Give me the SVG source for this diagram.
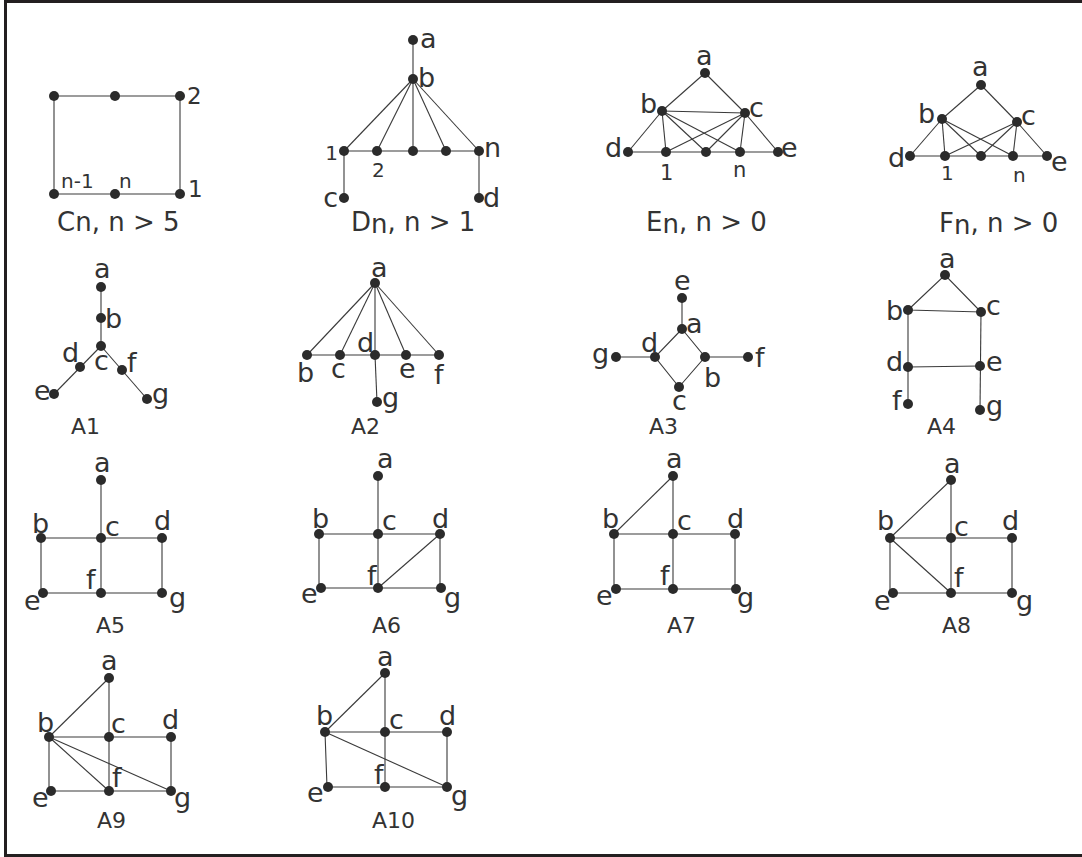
<svg xmlns="http://www.w3.org/2000/svg" width="1082" height="857" viewBox="0 0 1082 857">
<style>
.frame{fill:none;stroke:#231f20;stroke-width:3}
.e line,.e polyline{stroke:#3a3a3a;stroke-width:1.1;fill:none}
circle{fill:#2b2b2b}
text{font-family:"DejaVu Sans","Liberation Sans",sans-serif;fill:#333;font-size:27px}
.s{font-size:20px}
.cap{font-size:26px}
.ac{font-size:22px}
</style>
<rect width="1082" height="857" fill="#fff"/>
<g id="frame">
<path class="frame" d="M5.5,1.5 H1082 M5.5,0 V857 M4,855.5 H1082"/>
</g>

<!-- Cn -->
<g id="Cn">
<g class="e" id="Cn-edges"><polyline points="54,96 180,96 180,194 54,194 54,96"/></g>
<g id="Cn-v1"><circle cx="54" cy="96" r="5"/></g>
<g id="Cn-v2"><circle cx="115" cy="96" r="5"/></g>
<g id="Cn-2"><circle cx="180" cy="96" r="5"/><text x="187" y="104" style="font-size:23px">2</text></g>
<g id="Cn-n1"><circle cx="54" cy="194" r="5"/><text class="s" x="61" y="188" style="font-size:20px">n-1</text></g>
<g id="Cn-n"><circle cx="115" cy="194" r="5"/><text class="s" x="119" y="188" style="font-size:20px">n</text></g>
<g id="Cn-1"><circle cx="180" cy="194" r="5"/><text x="188" y="197" style="font-size:23px">1</text></g>
<text class="cap" x="57" y="231">Cn, n &gt; 5</text>
</g>

<!-- Dn -->
<g id="Dn">
<g class="e" id="Dn-edges">
<line x1="413" y1="40" x2="413" y2="79"/>
<line x1="413" y1="79" x2="344" y2="151"/>
<line x1="413" y1="79" x2="377" y2="151"/>
<line x1="413" y1="79" x2="413" y2="151"/>
<line x1="413" y1="79" x2="446" y2="151"/>
<line x1="413" y1="79" x2="479" y2="151"/>
<line x1="344" y1="151" x2="479" y2="151"/>
<line x1="344" y1="151" x2="344" y2="198"/>
<line x1="479" y1="151" x2="479" y2="198"/>
</g>
<g id="Dn-a"><circle cx="413" cy="40" r="5"/><text x="420" y="48">a</text></g>
<g id="Dn-b"><circle cx="413" cy="79" r="5"/><text x="418" y="87">b</text></g>
<g id="Dn-1"><circle cx="344" cy="151" r="5"/><text class="s" x="338" y="160" text-anchor="end">1</text></g>
<g id="Dn-2"><circle cx="377" cy="151" r="5"/><text class="s" x="372" y="177">2</text></g>
<g id="Dn-3"><circle cx="413" cy="151" r="5"/></g>
<g id="Dn-4"><circle cx="446" cy="151" r="5"/></g>
<g id="Dn-n"><circle cx="479" cy="151" r="5"/><text x="484" y="157">n</text></g>
<g id="Dn-c"><circle cx="344" cy="198" r="5"/><text x="338" y="207" text-anchor="end">c</text></g>
<g id="Dn-d"><circle cx="479" cy="198" r="5"/><text x="483" y="207">d</text></g>
<text class="cap" x="351" y="231">D<tspan dy="2">n</tspan><tspan dy="-2">, n &gt; 1</tspan></text>
</g>

<!-- En -->
<g id="En">
<g class="e" id="En-edges">
<line x1="705" y1="73" x2="662" y2="111"/>
<line x1="705" y1="73" x2="745" y2="113"/>
<line x1="662" y1="111" x2="745" y2="113"/>
<line x1="662" y1="111" x2="628" y2="152"/>
<line x1="662" y1="111" x2="666" y2="152"/>
<line x1="662" y1="111" x2="706" y2="152"/>
<line x1="662" y1="111" x2="740" y2="152"/>
<line x1="745" y1="113" x2="666" y2="152"/>
<line x1="745" y1="113" x2="706" y2="152"/>
<line x1="745" y1="113" x2="740" y2="152"/>
<line x1="745" y1="113" x2="778" y2="152"/>
<line x1="628" y1="152" x2="778" y2="152"/>
</g>
<g id="En-a"><circle cx="705" cy="73" r="5"/><text x="696" y="65">a</text></g>
<g id="En-b"><circle cx="662" cy="111" r="5"/><text x="640" y="113">b</text></g>
<g id="En-c"><circle cx="745" cy="113" r="5"/><text x="749" y="117">c</text></g>
<g id="En-d"><circle cx="628" cy="152" r="5"/><text x="605" y="157">d</text></g>
<g id="En-1"><circle cx="666" cy="152" r="5"/><text class="s" x="660" y="180" style="font-size:21px">1</text></g>
<g id="En-m"><circle cx="706" cy="152" r="5"/></g>
<g id="En-n"><circle cx="740" cy="152" r="5"/><text class="s" x="733" y="177" style="font-size:21px">n</text></g>
<g id="En-e"><circle cx="778" cy="152" r="5"/><text x="781" y="157">e</text></g>
<text class="cap" x="646" y="231">E<tspan dy="2">n</tspan><tspan dy="-2">, n &gt; 0</tspan></text>
</g>

<!-- Fn -->
<g id="Fn">
<g class="e" id="Fn-edges">
<line x1="981" y1="85" x2="942" y2="119"/>
<line x1="981" y1="85" x2="1017" y2="122"/>
<line x1="942" y1="119" x2="910" y2="156"/>
<line x1="942" y1="119" x2="945" y2="156"/>
<line x1="942" y1="119" x2="981" y2="156"/>
<line x1="942" y1="119" x2="1013" y2="156"/>
<line x1="1017" y1="122" x2="945" y2="156"/>
<line x1="1017" y1="122" x2="981" y2="156"/>
<line x1="1017" y1="122" x2="1013" y2="156"/>
<line x1="1017" y1="122" x2="1047" y2="156"/>
<line x1="910" y1="156" x2="1047" y2="156"/>
</g>
<g id="Fn-a"><circle cx="981" cy="85" r="5"/><text x="972" y="76">a</text></g>
<g id="Fn-b"><circle cx="942" cy="119" r="5"/><text x="918" y="123">b</text></g>
<g id="Fn-c"><circle cx="1017" cy="122" r="5"/><text x="1021" y="125">c</text></g>
<g id="Fn-d"><circle cx="910" cy="156" r="5"/><text x="888" y="167">d</text></g>
<g id="Fn-1"><circle cx="945" cy="156" r="5"/><text class="s" x="941" y="180">1</text></g>
<g id="Fn-m"><circle cx="981" cy="156" r="5"/></g>
<g id="Fn-n"><circle cx="1013" cy="156" r="5"/><text class="s" x="1013" y="182">n</text></g>
<g id="Fn-e"><circle cx="1047" cy="156" r="5"/><text x="1051" y="171">e</text></g>
<text class="cap" x="939" y="232">F<tspan dy="2">n</tspan><tspan dy="-2">, n &gt; 0</tspan></text>
</g>

<!-- A1 -->
<g id="A1">
<g class="e" id="A1-edges">
<line x1="101" y1="287" x2="101" y2="346"/>
<line x1="101" y1="346" x2="54" y2="394"/>
<line x1="101" y1="346" x2="147" y2="399"/>
</g>
<g id="A1-a"><circle cx="101" cy="287" r="5"/><text x="94" y="278">a</text></g>
<g id="A1-b"><circle cx="101" cy="318" r="5"/><text x="105" y="328">b</text></g>
<g id="A1-c"><circle cx="101" cy="346" r="5"/><text x="94" y="370">c</text></g>
<g id="A1-d"><circle cx="80" cy="367" r="5"/><text x="62" y="362">d</text></g>
<g id="A1-e"><circle cx="54" cy="394" r="5"/><text x="34" y="400">e</text></g>
<g id="A1-f"><circle cx="122" cy="370" r="5"/><text x="127" y="372">f</text></g>
<g id="A1-g"><circle cx="147" cy="399" r="5"/><text x="152" y="403">g</text></g>
<text class="ac" x="71" y="434">A1</text>
</g>

<!-- A2 -->
<g id="A2">
<g class="e" id="A2-edges">
<line x1="375" y1="283" x2="307" y2="355"/>
<line x1="375" y1="283" x2="340" y2="355"/>
<line x1="375" y1="283" x2="375" y2="355"/>
<line x1="375" y1="283" x2="406" y2="355"/>
<line x1="375" y1="283" x2="439" y2="355"/>
<line x1="307" y1="355" x2="439" y2="355"/>
<line x1="375" y1="355" x2="377" y2="402"/>
</g>
<g id="A2-a"><circle cx="375" cy="283" r="5"/><text x="371" y="277">a</text></g>
<g id="A2-b"><circle cx="307" cy="355" r="5"/><text x="297" y="382">b</text></g>
<g id="A2-c"><circle cx="340" cy="355" r="5"/><text x="331" y="378">c</text></g>
<g id="A2-d"><circle cx="375" cy="355" r="5"/><text x="357" y="352">d</text></g>
<g id="A2-e"><circle cx="406" cy="355" r="5"/><text x="399" y="378">e</text></g>
<g id="A2-f"><circle cx="439" cy="355" r="5"/><text x="434" y="384">f</text></g>
<g id="A2-g"><circle cx="377" cy="402" r="5"/><text x="382" y="407">g</text></g>
<text class="ac" x="351" y="434">A2</text>
</g>

<!-- A3 -->
<g id="A3">
<g class="e" id="A3-edges">
<line x1="682" y1="298" x2="682" y2="329"/>
<polyline points="682,329 705,357 679,387 655,357 682,329"/>
<line x1="616" y1="357" x2="655" y2="357"/>
<line x1="705" y1="357" x2="748" y2="357"/>
</g>
<g id="A3-e"><circle cx="682" cy="298" r="5"/><text x="674" y="290">e</text></g>
<g id="A3-a"><circle cx="682" cy="329" r="5"/><text x="686" y="333">a</text></g>
<g id="A3-d"><circle cx="655" cy="357" r="5"/><text x="641" y="352">d</text></g>
<g id="A3-b"><circle cx="705" cy="357" r="5"/><text x="704" y="387">b</text></g>
<g id="A3-c"><circle cx="679" cy="387" r="5"/><text x="672" y="410">c</text></g>
<g id="A3-g"><circle cx="616" cy="357" r="5"/><text x="592" y="363">g</text></g>
<g id="A3-f"><circle cx="748" cy="357" r="5"/><text x="755" y="367">f</text></g>
<text class="ac" x="649" y="434">A3</text>
</g>

<!-- A4 -->
<g id="A4">
<g class="e" id="A4-edges">
<polyline points="908,310 945,275 981,312 908,310"/>
<line x1="908" y1="310" x2="908" y2="404"/>
<line x1="981" y1="312" x2="980" y2="410"/>
<line x1="908" y1="367" x2="980" y2="366"/>
</g>
<g id="A4-a"><circle cx="945" cy="275" r="5"/><text x="939" y="268">a</text></g>
<g id="A4-b"><circle cx="908" cy="310" r="5"/><text x="886" y="320">b</text></g>
<g id="A4-c"><circle cx="981" cy="312" r="5"/><text x="986" y="315">c</text></g>
<g id="A4-d"><circle cx="908" cy="367" r="5"/><text x="886" y="371">d</text></g>
<g id="A4-e"><circle cx="980" cy="366" r="5"/><text x="986" y="371">e</text></g>
<g id="A4-f"><circle cx="908" cy="404" r="5"/><text x="892" y="410">f</text></g>
<g id="A4-g"><circle cx="980" cy="410" r="5"/><text x="986" y="415">g</text></g>
<text class="ac" x="927" y="434">A4</text>
</g>

<!-- A5 -->
<g id="A5">
<g class="e" id="A5-edges">
<polyline points="41,538 162,538 162,593 41,593 41,538"/>
<line x1="101" y1="480" x2="101" y2="593"/>
</g>
<g id="A5-a"><circle cx="101" cy="480" r="5"/><text x="94" y="472">a</text></g>
<g id="A5-b"><circle cx="41" cy="538" r="5"/><text x="32" y="533">b</text></g>
<g id="A5-c"><circle cx="101" cy="538" r="5"/><text x="105" y="536">c</text></g>
<g id="A5-d"><circle cx="162" cy="538" r="5"/><text x="154" y="530">d</text></g>
<g id="A5-e"><circle cx="43" cy="593" r="5"/><text x="24" y="610">e</text></g>
<g id="A5-f"><circle cx="101" cy="593" r="5"/><text x="86" y="589">f</text></g>
<g id="A5-g"><circle cx="162" cy="593" r="5"/><text x="169" y="607">g</text></g>
<text class="ac" x="96" y="633">A5</text>
</g>

<!-- A6 -->
<g id="A6">
<g class="e" id="A6-edges">
<polyline points="319,534 440,534 440,588 319,588 319,534"/>
<line x1="378" y1="476" x2="378" y2="588"/>
<line x1="378" y1="588" x2="440" y2="534"/>
</g>
<g id="A6-a"><circle cx="378" cy="476" r="5"/><text x="377" y="468">a</text></g>
<g id="A6-b"><circle cx="319" cy="534" r="5"/><text x="312" y="528">b</text></g>
<g id="A6-c"><circle cx="378" cy="534" r="5"/><text x="382" y="530">c</text></g>
<g id="A6-d"><circle cx="440" cy="534" r="5"/><text x="432" y="528">d</text></g>
<g id="A6-e"><circle cx="321" cy="588" r="5"/><text x="301" y="603">e</text></g>
<g id="A6-f"><circle cx="378" cy="588" r="5"/><text x="367" y="585">f</text></g>
<g id="A6-g"><circle cx="441" cy="588" r="5"/><text x="444" y="607">g</text></g>
<text class="ac" x="372" y="633">A6</text>
</g>

<!-- A7 -->
<g id="A7">
<g class="e" id="A7-edges">
<polyline points="614,534 735,534 735,589 614,589 614,534"/>
<line x1="673" y1="476" x2="673" y2="589"/>
<line x1="673" y1="476" x2="614" y2="534"/>
</g>
<g id="A7-a"><circle cx="673" cy="476" r="5"/><text x="666" y="468">a</text></g>
<g id="A7-b"><circle cx="614" cy="534" r="5"/><text x="602" y="528">b</text></g>
<g id="A7-c"><circle cx="673" cy="534" r="5"/><text x="677" y="530">c</text></g>
<g id="A7-d"><circle cx="735" cy="534" r="5"/><text x="727" y="528">d</text></g>
<g id="A7-e"><circle cx="616" cy="589" r="5"/><text x="596" y="605">e</text></g>
<g id="A7-f"><circle cx="673" cy="589" r="5"/><text x="660" y="585">f</text></g>
<g id="A7-g"><circle cx="736" cy="589" r="5"/><text x="737" y="607">g</text></g>
<text class="ac" x="667" y="633">A7</text>
</g>

<!-- A8 -->
<g id="A8">
<g class="e" id="A8-edges">
<polyline points="890,538 1012,538 1012,593 890,593 890,538"/>
<line x1="951" y1="480" x2="951" y2="593"/>
<line x1="951" y1="480" x2="890" y2="538"/>
<line x1="890" y1="538" x2="951" y2="593"/>
</g>
<g id="A8-a"><circle cx="951" cy="480" r="5"/><text x="944" y="473">a</text></g>
<g id="A8-b"><circle cx="890" cy="538" r="5"/><text x="877" y="530">b</text></g>
<g id="A8-c"><circle cx="951" cy="538" r="5"/><text x="954" y="536">c</text></g>
<g id="A8-d"><circle cx="1012" cy="538" r="5"/><text x="1002" y="530">d</text></g>
<g id="A8-e"><circle cx="893" cy="593" r="5"/><text x="874" y="610">e</text></g>
<g id="A8-f"><circle cx="951" cy="593" r="5"/><text x="954" y="587">f</text></g>
<g id="A8-g"><circle cx="1012" cy="593" r="5"/><text x="1016" y="610">g</text></g>
<text class="ac" x="942" y="633">A8</text>
</g>

<!-- A9 -->
<g id="A9">
<g class="e" id="A9-edges">
<polyline points="49,737 171,737 171,791 49,791 49,737"/>
<line x1="109" y1="678" x2="109" y2="791"/>
<line x1="109" y1="678" x2="49" y2="737"/>
<line x1="49" y1="737" x2="109" y2="791"/>
<line x1="49" y1="737" x2="171" y2="791"/>
</g>
<g id="A9-a"><circle cx="109" cy="678" r="5"/><text x="101" y="670">a</text></g>
<g id="A9-b"><circle cx="49" cy="737" r="5"/><text x="37" y="732">b</text></g>
<g id="A9-c"><circle cx="109" cy="737" r="5"/><text x="111" y="733">c</text></g>
<g id="A9-d"><circle cx="171" cy="737" r="5"/><text x="162" y="729">d</text></g>
<g id="A9-e"><circle cx="51" cy="791" r="5"/><text x="32" y="807">e</text></g>
<g id="A9-f"><circle cx="109" cy="791" r="5"/><text x="112" y="787">f</text></g>
<g id="A9-g"><circle cx="171" cy="791" r="5"/><text x="174" y="807">g</text></g>
<text class="ac" x="97" y="828">A9</text>
</g>

<!-- A10 -->
<g id="A10">
<g class="e" id="A10-edges">
<polyline points="325,732 447,732 447,787 327,787 325,732"/>
<line x1="385" y1="673" x2="385" y2="787"/>
<line x1="385" y1="673" x2="325" y2="732"/>
<line x1="325" y1="732" x2="447" y2="787"/>
</g>
<g id="A10-a"><circle cx="385" cy="673" r="5"/><text x="377" y="666">a</text></g>
<g id="A10-b"><circle cx="325" cy="732" r="5"/><text x="316" y="725">b</text></g>
<g id="A10-c"><circle cx="385" cy="732" r="5"/><text x="389" y="729">c</text></g>
<g id="A10-d"><circle cx="447" cy="732" r="5"/><text x="439" y="725">d</text></g>
<g id="A10-e"><circle cx="328" cy="787" r="5"/><text x="307" y="802">e</text></g>
<g id="A10-f"><circle cx="385" cy="787" r="5"/><text x="374" y="784">f</text></g>
<g id="A10-g"><circle cx="447" cy="787" r="5"/><text x="451" y="805">g</text></g>
<text class="ac" x="372" y="828">A10</text>
</g>
</svg>
